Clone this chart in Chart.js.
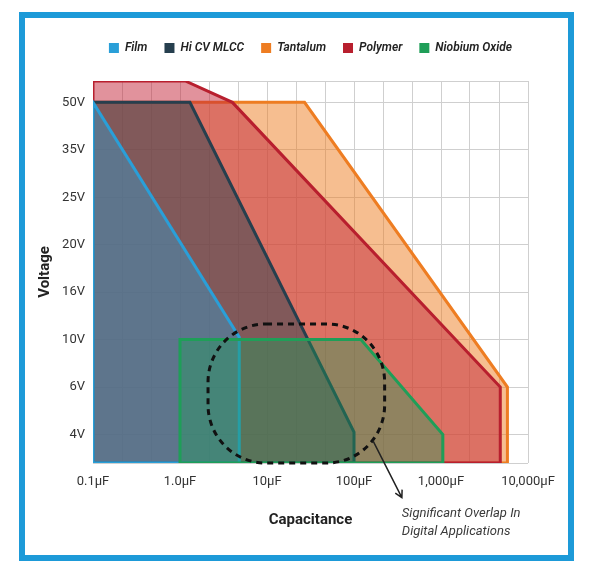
<!DOCTYPE html>
<html>
<head>
<meta charset="utf-8">
<script src="https://cdn.jsdelivr.net/npm/chart.js@4"></script>
<style>
  body { margin: 0; background: #fff; }
  #frame {
    position: absolute; left: 19px; top: 12px;
    width: 543px; height: 537px;
    border: 6px solid #1d9ad8;
  }
  #wrap { position: absolute; left: 0; top: 0; width: 595px; height: 576px; }
</style>
</head>
<body>
<div id="frame"></div>
<div id="wrap"><canvas id="grafico" width="595" height="576"></canvas></div>
<script>
// eixos
const voltageLabels = ['4V', '6V', '10V', '16V', '20V', '25V', '35V', '50V'];
const capTicks = [0.1, 1, 10, 100, 1000, 10000];
const capLabels = ['0.1µF', '1.0µF', '10µF', '100µF', '1,000µF', '10,000µF'];
const levelMin = -0.6;
const levelMax = 7.45;

// contornos de cada tecnologia: capacitância (µF) e nível de tensão (índice em voltageLabels)
const filmCap = [0.1, 0.1, 4.8, 4.8, 0.1];
const filmLevel = [levelMin, 7, 2.05, levelMin, levelMin];

const mlccCap = [0.1, 0.1, 1.3, 100, 100, 0.1];
const mlccLevel = [levelMin, 7, 7, 0.05, levelMin, levelMin];

const tantalumCap = [0.1, 0.1, 27, 5800, 5800, 0.1];
const tantalumLevel = [levelMin, 7, 7, 1, levelMin, levelMin];

const polymerCap = [0.1, 0.1, 1.15, 4, 4800, 4800, 0.1];
const polymerLevel = [levelMin, levelMax, levelMax, 7, 1, levelMin, levelMin];

const niobiumCap = [1, 1, 120, 1050, 1050, 1];
const niobiumLevel = [levelMin, 2, 2, 0, levelMin, levelMin];

const noteLines = ['Significant Overlap In', 'Digital Applications'];

const pontos = (caps, levels) => caps.map((c, i) => ({ x: c, y: levels[i] }));

function serie(label, caps, levels, cor, fundo, ordem) {
    return {
        label: label,
        data: pontos(caps, levels),
        showLine: true,
        fill: 'shape',
        borderColor: cor,
        backgroundColor: fundo,
        borderWidth: 3,
        borderJoinStyle: 'miter',
        pointRadius: 0,
        tension: 0,
        order: ordem
    };
}

// centraliza a legenda sobre a área do gráfico e sobe um pouco
const centralizarLegenda = {
    id: 'centralizarLegenda',
    afterLayout(chart) {
        const l = chart.legend;
        const d = (chart.chartArea.left + chart.chartArea.right - l.left - l.right) / 2;
        l.left += d;
        l.right += d;
        l.top -= 17;
        l.bottom -= 17;
    }
};

// região de sobreposição tracejada + seta + nota
const anotacao = {
    id: 'anotacao',
    afterDatasetsDraw(chart) {
        const { ctx, scales: { x, y } } = chart;
        const x0 = x.getPixelForValue(2.1), x1 = x.getPixelForValue(225);
        const y0 = y.getPixelForValue(2.33), y1 = y.getPixelForValue(levelMin);
        ctx.save();
        ctx.strokeStyle = '#111';
        ctx.lineWidth = 3;
        ctx.setLineDash([6, 5]);
        ctx.beginPath();
        ctx.roundRect(x0, y0, x1 - x0, y1 - y0, 58);
        ctx.stroke();

        const ax0 = x.getPixelForValue(165), ay0 = y.getPixelForValue(-0.13);
        const ax1 = x.getPixelForValue(355), ay1 = y.getPixelForValue(-1.33);
        ctx.setLineDash([]);
        ctx.lineWidth = 1.5;
        ctx.strokeStyle = '#222';
        ctx.beginPath();
        ctx.moveTo(ax0, ay0);
        ctx.lineTo(ax1, ay1);
        const ang = Math.atan2(ay1 - ay0, ax1 - ax0);
        ctx.moveTo(ax1 - 8 * Math.cos(ang - 0.5), ay1 - 8 * Math.sin(ang - 0.5));
        ctx.lineTo(ax1, ay1);
        ctx.lineTo(ax1 - 8 * Math.cos(ang + 0.5), ay1 - 8 * Math.sin(ang + 0.5));
        ctx.stroke();

        ctx.fillStyle = '#3a3a3a';
        ctx.font = 'italic 13px Roboto';
        ctx.textBaseline = 'middle';
        noteLines.forEach((t, i) => ctx.fillText(t, ax1, y.getPixelForValue(-1.68) + i * 18));
        ctx.restore();
    }
};

const ctx = document.getElementById('grafico').getContext('2d');

const graficoCapacitores = new Chart(ctx, {
    type: 'scatter',
    data: {
        datasets: [
            serie('Film', filmCap, filmLevel, '#2a9fd8', 'rgba(42,159,216,0.4)', 1),
            serie('Hi CV MLCC', mlccCap, mlccLevel, '#263f4e', 'rgba(40,66,82,0.5)', 2),
            serie('Tantalum', tantalumCap, tantalumLevel, '#ee7d22', 'rgba(238,125,34,0.5)', 4),
            serie('Polymer', polymerCap, polymerLevel, '#b81f2e', 'rgba(196,37,58,0.5)', 3),
            serie('Niobium Oxide', niobiumCap, niobiumLevel, '#1f9e58', 'rgba(30,158,90,0.4)', 0)
        ]
    },
    options: {
        responsive: false,
        animation: false,
        layout: { padding: { top: 42, left: 30, right: 67, bottom: 30 } },
        plugins: {
            tooltip: { enabled: false },
            legend: {
                position: 'top',
                labels: {
                    boxWidth: 10,
                    boxHeight: 10,
                    padding: 17,
                    color: '#222',
                    font: { family: 'Roboto', size: 12, style: 'italic', weight: '600' },
                    sort: (a, b) => a.datasetIndex - b.datasetIndex,
                    generateLabels(chart) {
                        return chart.data.datasets.map((ds, i) => ({
                            text: ds.label,
                            fillStyle: ds.borderColor,
                            strokeStyle: ds.borderColor,
                            lineWidth: 0,
                            fontColor: '#222',
                            datasetIndex: i
                        }));
                    }
                }
            }
        },
        scales: {
            x: {
                type: 'logarithmic',
                min: capTicks[0],
                max: capTicks[capTicks.length - 1],
                afterBuildTicks(axis) {
                    const ticks = [];
                    for (let k = 0; k <= (capTicks.length - 1) * 3; k++) {
                        ticks.push({ value: k % 3 === 0 ? capTicks[k / 3] : capTicks[0] * Math.pow(10, k / 3) });
                    }
                    axis.ticks = ticks;
                },
                afterFit(axis) { axis.height = 83; },
                ticks: {
                    autoSkip: false,
                    maxRotation: 0,
                    padding: 11,
                    color: '#333',
                    font: { family: 'Roboto', size: 13 },
                    callback: (value, index) => index % 3 === 0 ? capLabels[index / 3] : ''
                },
                grid: { color: '#cfcfcf', lineWidth: 1, drawTicks: false },
                border: { display: false },
                title: {
                    display: true,
                    text: 'Capacitance',
                    color: '#222',
                    font: { family: 'Roboto', size: 15, weight: 'bold' },
                    padding: { top: 0, bottom: 17 }
                }
            },
            y: {
                type: 'linear',
                min: levelMin,
                max: levelMax,
                afterBuildTicks(axis) {
                    axis.ticks = [levelMin, ...voltageLabels.map((v, i) => i), levelMax].map(v => ({ value: v }));
                },
                afterFit(axis) { axis.width = 63; },
                ticks: {
                    padding: 8,
                    color: '#333',
                    font: { family: 'Roboto', size: 13 },
                    callback: (value) => Number.isInteger(value) ? voltageLabels[value] : ''
                },
                grid: { color: '#cfcfcf', lineWidth: 1, drawTicks: false },
                border: { display: false },
                title: {
                    display: true,
                    text: 'Voltage',
                    color: '#222',
                    font: { family: 'Roboto', size: 15, weight: 'bold' },
                    padding: { top: 6, bottom: 0 }
                }
            }
        }
    },
    plugins: [centralizarLegenda, anotacao]
});
</script>
</body>
</html>
